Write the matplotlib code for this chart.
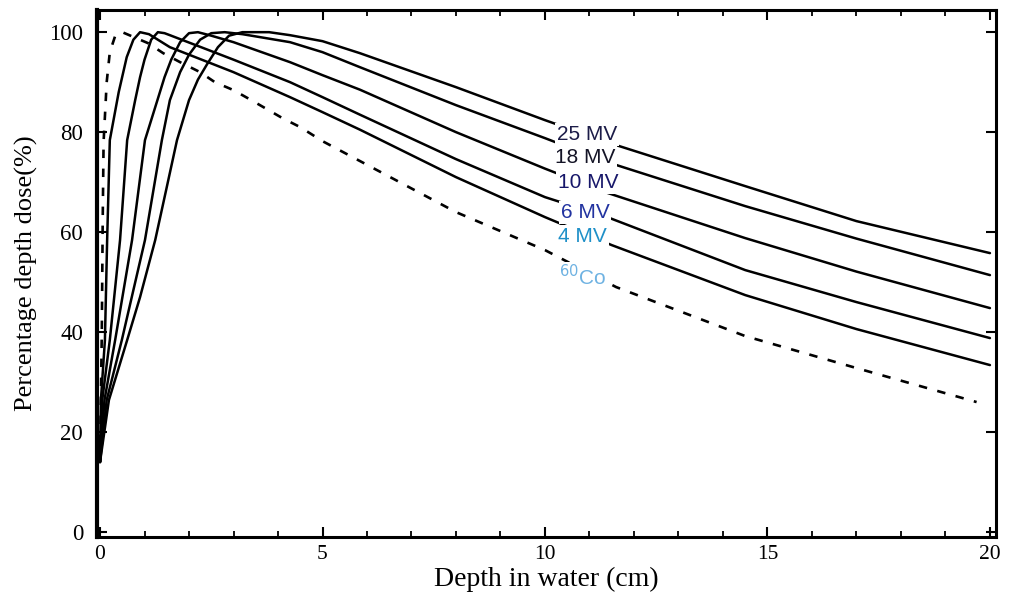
import matplotlib
matplotlib.use("Agg")
import matplotlib.pyplot as plt
from matplotlib.ticker import MultipleLocator

# Percentage depth dose curves (depth in cm, dose in %)
depth_25mv = [0, 0.2, 0.61, 0.9, 1.24, 1.5, 1.73, 2.0, 2.2, 2.4, 2.65, 2.9, 3.2, 3.8, 4.27, 5.0, 5.84, 8.0, 10.0, 11.46, 14.5, 17.0, 20.0]
dose_25mv = [14, 26.4, 38.4, 47, 58.4, 69, 78.4, 86.4, 90.5, 93.5, 97, 99.3, 100, 100, 99.4, 98.2, 95.8, 89, 82.4, 77.8, 69.2, 62.2, 55.8]

depth_18mv = [0, 0.15, 0.49, 1.01, 1.39, 1.57, 1.8, 2.0, 2.25, 2.5, 2.8, 3.2, 4.27, 5.0, 5.84, 8.0, 10.0, 11.4, 14.5, 17.0, 20.0]
dose_18mv = [14, 26.4, 38.4, 58.4, 78.4, 86.4, 92, 95.5, 98.5, 99.8, 100, 99.6, 98, 96, 93, 85.4, 78.8, 74, 65.2, 58.7, 51.4]

depth_10mv = [0, 0.1, 0.34, 0.72, 1.01, 1.29, 1.45, 1.6, 1.8, 2.0, 2.2, 2.5, 3.0, 4.27, 5.0, 5.84, 8.0, 10.0, 11.35, 14.5, 17.0, 20.0]
dose_10mv = [14, 26.4, 38.4, 58.4, 78.4, 86.4, 91, 94.5, 98, 99.8, 100, 99.3, 98, 94, 91.4, 88.5, 80, 72.7, 68, 58.8, 52.1, 44.8]

depth_6mv = [0, 0.05, 0.22, 0.45, 0.61, 0.79, 0.9, 1.0, 1.15, 1.3, 1.45, 1.57, 3.0, 4.27, 5.0, 5.84, 8.0, 10.0, 11.4, 14.5, 17.0, 20.0]
dose_6mv = [14, 26.4, 38.4, 58.4, 78.4, 86.4, 91, 94.5, 98.5, 100, 99.8, 99.4, 94.5, 90, 87, 83.5, 74.6, 67, 63, 52.4, 46, 38.8]

depth_4mv = [0, 0.02, 0.11, 0.16, 0.22, 0.42, 0.6, 0.75, 0.9, 1.1, 1.57, 3.0, 4.27, 5.0, 5.84, 8.0, 10.0, 11.5, 14.5, 17.0, 20.0]
dose_4mv = [14, 26.4, 38.4, 58.4, 78.4, 88, 95, 98.5, 100, 99.6, 97, 92, 87, 84, 80.5, 71, 63, 57.4, 47.4, 40.6, 33.4]

depth_co60 = [0, 0.04, 0.06, 0.08, 0.15, 0.22, 0.35, 0.5, 1.08, 1.42, 1.8, 2.25, 2.58, 3.0, 3.4, 3.75, 4.1, 4.5, 5.0, 8.0, 10.0, 11.6, 14.5, 17.0, 19.7]
dose_co60 = [14, 40, 62, 78, 90, 96, 99.5, 100, 97.8, 95.8, 94, 92, 90, 88.4, 86.4, 84.6, 82.8, 81, 78.2, 64, 56.4, 49, 39.2, 32.8, 26]

x_ticks = [0, 5, 10, 15, 20]
y_ticks = [0, 20, 40, 60, 80, 100]

beam_labels = ["25 MV", "18 MV", "10 MV", "6 MV", "4 MV", r"$^{60}$Co"]
label_depth = [10.94, 10.9, 10.97, 10.9, 10.85, 10.85]
label_dose = [79.6, 75.0, 70.0, 64.0, 59.2, 51.0]
label_colors = ["#1c1c48", "#141426", "#17176a", "#2233a0", "#1f90c8", "#6eb2e2"]

fig = plt.figure(figsize=(10.14, 5.99), dpi=100)
ax = fig.add_axes([0.0957, 0.1035, 0.8865, 0.8795])

line_kw = dict(color="black", lw=1.8, solid_joinstyle="round", solid_capstyle="round", zorder=2)
for d, v in [(depth_25mv, dose_25mv), (depth_18mv, dose_18mv), (depth_10mv, dose_10mv),
             (depth_6mv, dose_6mv), (depth_4mv, dose_4mv)]:
    ax.plot(d, v, **line_kw)
ax.plot(depth_co60, dose_co60, color="black", lw=1.9, linestyle=(0, (3.2, 4)), zorder=2)

for text, xd, yd, c in zip(beam_labels, label_depth, label_dose, label_colors):
    ax.text(xd, yd, text, color=c, fontsize=15, family="Liberation Sans",
            ha="center", va="center", zorder=4,
            bbox=dict(facecolor="white", edgecolor="none", pad=1.5))

ax.set_xlim(-0.067, 20.135)
ax.set_ylim(-1, 104.4)
ax.set_xticks(x_ticks)
ax.set_yticks(y_ticks)
ax.xaxis.set_minor_locator(MultipleLocator(1))

for s in ax.spines.values():
    s.set_linewidth(2.2)
ax.spines["left"].set_linewidth(3.0)

ax.tick_params(axis="both", which="major", direction="in", length=7, width=1.5,
               top=True, right=True)
ax.tick_params(axis="x", which="minor", direction="in", length=4, width=1.3, top=True)
ax.tick_params(axis="y", which="major", labelsize=16.5, pad=10)
ax.tick_params(axis="x", which="major", labelsize=15.5, pad=6)
for lab in ax.get_xticklabels() + ax.get_yticklabels():
    lab.set_family("Liberation Serif")

ax.set_xlabel("Depth in water (cm)", family="Liberation Serif", fontsize=20, labelpad=2)
ax.set_ylabel("Percentage depth dose(%)", family="Liberation Serif", fontsize=19, labelpad=8)

fig.savefig("out.png", dpi=100)
